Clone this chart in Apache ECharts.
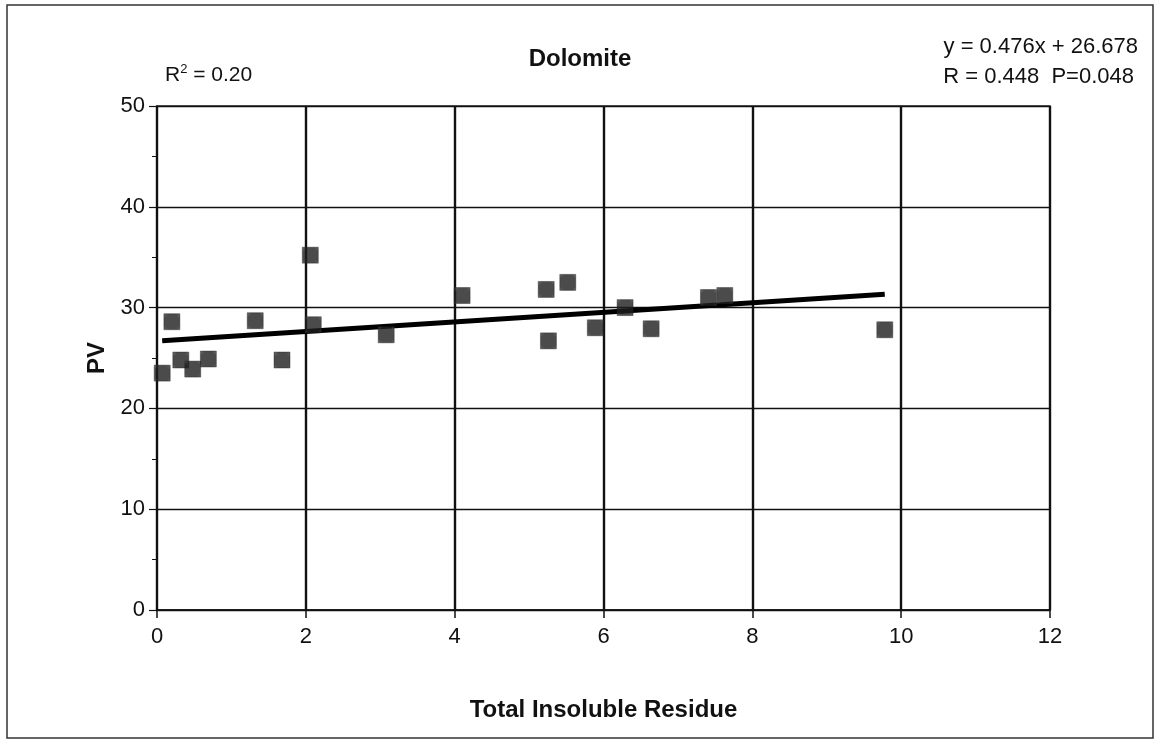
<!DOCTYPE html>
<html><head><meta charset="utf-8">
<script src="https://cdn.jsdelivr.net/npm/echarts@6/dist/echarts.min.js"></script>
<style>html,body{margin:0;padding:0;background:#fff}#c{width:1160px;height:747px}</style>
</head><body><div id="c"></div>
<script>
const residue = [0.07,0.20,0.32,0.48,0.69,1.32,1.68,2.06,2.10,3.08,4.10,5.23,5.26,5.52,5.89,6.29,6.64,7.41,7.63,9.78];
const pv      = [23.5,28.6,24.8,23.9,24.9,28.7,24.8,35.2,28.3,27.3,31.2,31.8,26.7,32.5,28.0,30.0,27.9,31.0,31.2,27.8];
const slope = 0.476, intercept = 26.678;
const xTicks = [0,2,4,6,8,10,12];
const yTicks = [0,10,20,30,40,50];

const pts = residue.map((x,i)=>[x,pv[i]]);
const xMin = Math.min(...residue), xMax = Math.max(...residue);
const trend = [[xMin, slope*xMin+intercept],[xMax, slope*xMax+intercept]];
const FONT = 'Liberation Sans, Arial, sans-serif';

// marker fill pattern (dark with light dots)
const pc = document.createElement('canvas');
pc.width = 4; pc.height = 4;
const pctx = pc.getContext('2d');
pctx.fillStyle = '#1e1e1e'; pctx.fillRect(0,0,4,4);
pctx.fillStyle = '#c8c8c8'; pctx.fillRect(1,1,2,2);

const chart = echarts.init(document.getElementById('c'), null, {renderer:'canvas'});
chart.setOption({
  animation:false,
  backgroundColor:'#fff',
  grid:{left:157,right:110,top:106,bottom:137,show:true,borderColor:'#222',borderWidth:1.5},
  graphic:[
    {type:'rect',shape:{x:7,y:5,width:1146,height:733},style:{fill:'none',stroke:'#333',lineWidth:1.5},silent:true},
    {type:'text',left:'center',top:47,style:{text:'Dolomite',font:'bold 24px '+FONT,fill:'#111'}},
    {type:'text',left:165,top:63,style:{rich:{a:{fontSize:21,fontFamily:FONT,fill:'#111'},s:{fontSize:13,fontFamily:FONT,fill:'#111',verticalAlign:'top',padding:[0,0,11,0]}},text:'{a|R}{s|2}{a| = 0.20}'}},
    {type:'text',right:22,top:36,style:{text:'y = 0.476x + 26.678',font:'22px '+FONT,fill:'#111',align:'right'}},
    {type:'text',right:26,top:66,style:{text:'R = 0.448  P=0.048',font:'22px '+FONT,fill:'#111',align:'right'}}
  ],
  xAxis:{
    type:'value',min:0,max:12,interval:2,
    name:'Total Insoluble Residue',nameLocation:'middle',nameGap:88,
    nameTextStyle:{fontFamily:FONT,fontSize:24,fontWeight:'bold',color:'#111'},
    axisLine:{show:true,lineStyle:{color:'#111',width:1.5}},
    axisTick:{show:true,inside:false,length:8,lineStyle:{color:'#111',width:1.5}},
    axisLabel:{fontFamily:FONT,fontSize:22,color:'#111',margin:16,formatter:v=>xTicks.includes(v)?String(v):''},
    splitLine:{show:true,lineStyle:{color:'#111',width:2.4}}
  },
  yAxis:{
    type:'value',min:0,max:50,interval:10,
    name:'PV',nameLocation:'middle',nameGap:48,nameRotate:90,
    nameTextStyle:{fontFamily:FONT,fontSize:24,fontWeight:'bold',color:'#111'},
    axisLine:{show:true,lineStyle:{color:'#111',width:1.5}},
    axisTick:{show:true,inside:false,length:8,lineStyle:{color:'#111',width:1.2}},
    minorTick:{show:true,splitNumber:2,length:5,lineStyle:{color:'#111',width:1}},
    axisLabel:{fontFamily:FONT,fontSize:22,color:'#111',margin:12,formatter:v=>yTicks.includes(v)?String(v):''},
    splitLine:{show:true,lineStyle:{color:'#111',width:1.3}}
  },
  series:[
    {type:'line',data:trend,symbol:'none',lineStyle:{color:'#000',width:5},z:3},
    {type:'scatter',data:pts,symbol:'rect',symbolSize:16,z:4,
     itemStyle:{color:{image:pc,repeat:'repeat'},borderColor:'#222',borderWidth:0.5}}
  ]
});
</script></body></html>
